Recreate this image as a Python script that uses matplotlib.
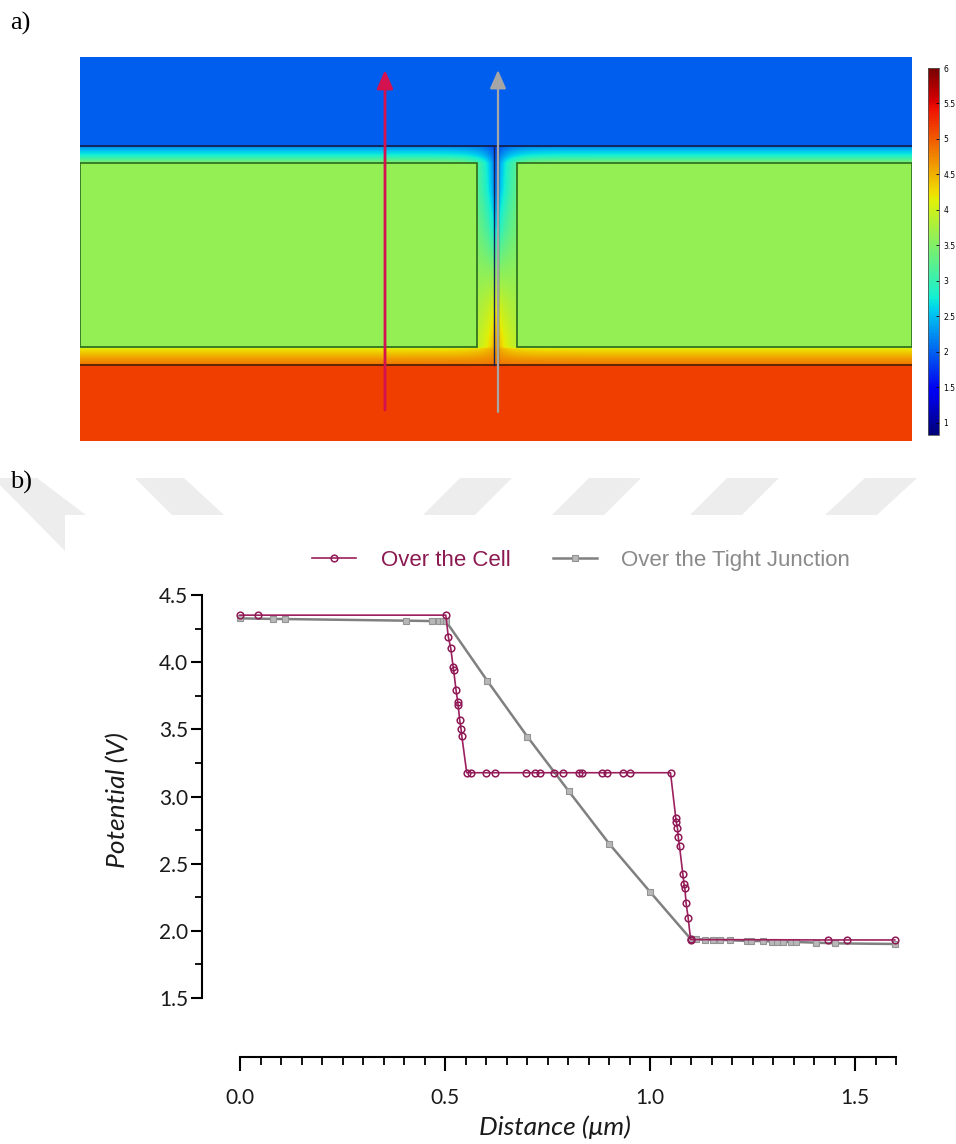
import numpy as np
import matplotlib
matplotlib.use("Agg")
import matplotlib.pyplot as plt
from matplotlib.colors import ListedColormap
from matplotlib.patches import Polygon, Rectangle

# ---- potential field (panel a), image pixel coordinates ----
# far-field vertical profile: bath above, membrane bands, cell, basal side
band_y = [57, 146, 147, 155, 163, 347, 349, 358, 365, 366, 441]
band_v = [2.0, 2.0, 2.3, 2.8, 3.5, 3.7, 4.2, 4.6, 4.85, 5.16, 5.16]
# profile straight through the tight junction
junction_y = [146, 190, 230, 270, 305, 335, 365]
junction_v = [1.85, 2.1, 2.7, 3.5, 4.1, 4.5, 4.85]
junction_x = 496.0
junction_spread = 13.0
cell_v = 3.62
cell_spans = [(80, 477), (517, 912)]
cell_top, cell_bottom = 163, 347
field_min, field_max = 0.83, 6.0
cbar_ticks = [1, 1.5, 2, 2.5, 3, 3.5, 4, 4.5, 5, 5.5, 6]

# ---- line profiles (panel b) ----
cell_dist = [0.0, 0.043, 0.502, 0.508, 0.514, 0.520, 0.521, 0.527, 0.531, 0.532,
             0.536, 0.539, 0.541, 0.553, 0.563, 0.600, 0.623, 0.698, 0.719, 0.732,
             0.767, 0.788, 0.828, 0.834, 0.883, 0.894, 0.933, 0.951, 1.050, 1.063,
             1.064, 1.067, 1.069, 1.072, 1.080, 1.083, 1.085, 1.088, 1.093, 1.099,
             1.101, 1.433, 1.481, 1.597]
cell_pot = [4.35, 4.35, 4.35, 4.19, 4.105, 3.962, 3.942, 3.79, 3.706, 3.679,
            3.567, 3.505, 3.45, 3.177, 3.177, 3.177, 3.177, 3.177, 3.177, 3.177,
            3.177, 3.177, 3.177, 3.177, 3.177, 3.177, 3.177, 3.177, 3.177, 2.838,
            2.812, 2.763, 2.696, 2.629, 2.425, 2.349, 2.319, 2.207, 2.098, 1.937,
            1.935, 1.932, 1.932, 1.932]

tj_dist = [0.0, 0.081, 0.110, 0.404, 0.469, 0.486, 0.496, 0.502, 0.603, 0.701,
           0.802, 0.900, 1.001, 1.100, 1.112, 1.134, 1.153, 1.171, 1.195, 1.236,
           1.246, 1.276, 1.297, 1.309, 1.325, 1.344, 1.356, 1.404, 1.450, 1.598]
tj_pot = [4.326, 4.322, 4.321, 4.309, 4.306, 4.306, 4.306, 4.306, 3.862, 3.445,
          3.039, 2.650, 2.287, 1.937, 1.937, 1.935, 1.935, 1.933, 1.930, 1.925,
          1.924, 1.924, 1.920, 1.920, 1.918, 1.917, 1.917, 1.912, 1.907, 1.902]

x_major = [0.0, 0.5, 1.0, 1.5]
x_labels = ["0.0", "0.5", "1.0", "1.5"]
y_major = [1.5, 2.0, 2.5, 3.0, 3.5, 4.0, 4.5]

W, H = 956, 1144
fig = plt.figure(figsize=(W / 100, H / 100), dpi=100)


def fx(px):
    return px / W


def fy(py):
    return 1 - py / H


# faint grey background shapes behind the lower panel header
bg = fig.add_axes([0, 0, 1, 1], zorder=-10)
bg.set_xlim(0, W)
bg.set_ylim(H, 0)
bg.axis("off")
shapes = [
    [(0, 478), (37, 478), (86, 515), (65, 515), (65, 551), (0, 485)],
    [(135, 478), (184, 478), (224, 515), (172, 515)],
    [(460, 478), (512, 478), (475, 515), (423, 515)],
    [(589, 478), (641, 478), (604, 515), (552, 515)],
    [(727, 478), (779, 478), (742, 515), (690, 515)],
    [(865, 478), (917, 478), (877, 515), (825, 515)],
]
for pts in shapes:
    bg.add_patch(Polygon(pts, closed=True, facecolor="#ededed", edgecolor="none"))

fig.text(fx(10), fy(30), "a)", family="Liberation Serif", fontsize=19, va="baseline")
fig.text(fx(10), fy(489), "b)", family="Liberation Serif", fontsize=19, va="baseline")

# ---- panel a: potential map ----
# slightly muted jet rainbow
jet = plt.get_cmap("jet")(np.linspace(0, 1, 256))
jet[:, :3] *= 0.94
rainbow = ListedColormap(jet)

ax_map = fig.add_axes([fx(80), fy(441), 832 / W, 384 / H])
xs = np.linspace(80, 912, 1665)
ys = np.linspace(57, 441, 769)
X, Y = np.meshgrid(xs, ys)
base = np.interp(Y, band_y, band_v)
junc = np.interp(Y, junction_y, junction_v)
weight = np.exp(-np.abs(X - junction_x) / junction_spread)
field = np.where((Y > 146) & (Y < 365), base + (junc - base) * weight, base)
for x0, x1 in cell_spans:
    inside = (X >= x0) & (X <= x1) & (Y >= cell_top) & (Y <= cell_bottom)
    field[inside] = cell_v

im = ax_map.imshow(field, cmap=rainbow, vmin=field_min, vmax=field_max,
                   extent=(80, 912, 441, 57), aspect="auto", interpolation="bilinear")
for x0, x1 in cell_spans:
    ax_map.add_patch(Rectangle((x0, cell_top), x1 - x0, cell_bottom - cell_top,
                               fill=False, edgecolor="#2b6a1e", lw=1.2))
ax_map.plot([80, 912], [146, 146], color="#141b45", lw=1.2)
ax_map.plot([80, 912], [365, 365], color="#4a1a08", lw=1.2)
for jx in (494, 498):
    ax_map.plot([jx, jx], [146, 365], color="#14245a", lw=1.0)

ax_map.annotate("", xy=(385, 70), xytext=(385, 410),
                arrowprops=dict(arrowstyle="-|>,head_length=0.8,head_width=0.35",
                                color="#d3124f", lw=2.0, mutation_scale=14,
                                shrinkA=0, shrinkB=0))
ax_map.annotate("", xy=(498, 70), xytext=(498, 412),
                arrowprops=dict(arrowstyle="-|>,head_length=0.8,head_width=0.35",
                                color="#a6a6a6", lw=1.6, mutation_scale=14,
                                shrinkA=0, shrinkB=0))
ax_map.set_xlim(80, 912)
ax_map.set_ylim(441, 57)
ax_map.axis("off")

cax = fig.add_axes([fx(928), fy(435), 11 / W, 367 / H])
cb = fig.colorbar(im, cax=cax, ticks=cbar_ticks)
cb.ax.set_yticklabels([f"{t:g}" for t in cbar_ticks])
cb.ax.tick_params(labelsize=5.5, length=2, width=0.6, direction="in", pad=3)
cb.outline.set_linewidth(0.6)
cb.outline.set_edgecolor("#555555")

# ---- panel b: potential along the two paths ----
ax = fig.add_axes([fx(240), fy(998), 656 / W, 403 / H])
line_tj, = ax.plot(tj_dist, tj_pot, color="#808080", lw=1.8, marker="s", ms=4,
                   mfc="#b8b8b8", mec="#939393", mew=0.8, clip_on=False, zorder=2)
line_cell, = ax.plot(cell_dist, cell_pot, color="#9c1f5e", lw=1.2, marker="o", ms=4.8,
                     mfc="none", mec="#8e1a55", mew=1.1, clip_on=False, zorder=3)

ax.set_xlim(0, 1.6)
ax.set_ylim(1.5, 4.5)
for side in ("top", "right"):
    ax.spines[side].set_visible(False)
ax.spines["left"].set_position(("outward", 27.4))
ax.spines["bottom"].set_position(("outward", 42.5))
ax.spines["left"].set_bounds(1.5, 4.5)
ax.spines["bottom"].set_bounds(0, 1.6)
for side in ("left", "bottom"):
    ax.spines[side].set_linewidth(1.5)

ax.set_xticks(x_major)
ax.set_xticklabels(x_labels)
ax.set_xticks(np.arange(0, 1.6001, 0.05), minor=True)
ax.set_yticks(y_major)
ax.set_yticklabels([f"{v:.1f}" for v in y_major])
ax.set_yticks(np.arange(1.5, 4.5001, 0.25), minor=True)
ax.tick_params(axis="both", which="major", width=1.5, labelsize=15,
               labelcolor="#1a1a1a")
ax.tick_params(axis="x", which="major", length=10, pad=12)
ax.tick_params(axis="x", which="minor", length=6, width=1.3)
ax.tick_params(axis="y", which="major", length=8, pad=2)
ax.tick_params(axis="y", which="minor", length=5, width=1.3)
for lab in ax.get_xticklabels() + ax.get_yticklabels():
    lab.set_family("Lato")

fig.text(fx(118), fy(800), "Potential (V)", rotation=90, ha="center", va="center",
         family="Lato", style="italic", fontsize=19, color="#1a1a1a")
fig.text(fx(555), fy(1127), "Distance (\u03bcm)", ha="center", va="center",
         family="Lato", style="italic", fontsize=19, color="#1a1a1a")

leg = fig.legend([line_cell, line_tj], ["Over the Cell", "Over the Tight Junction"],
                 loc="center", bbox_to_anchor=(fx(581), fy(560)), ncol=2,
                 frameon=False, prop={"family": "Liberation Sans", "size": 16},
                 handlelength=2.0, handletextpad=1.1, columnspacing=1.9)
for txt, col in zip(leg.get_texts(), ["#8b1a50", "#8a8a8a"]):
    txt.set_color(col)

fig.savefig("out.png", dpi=100)
